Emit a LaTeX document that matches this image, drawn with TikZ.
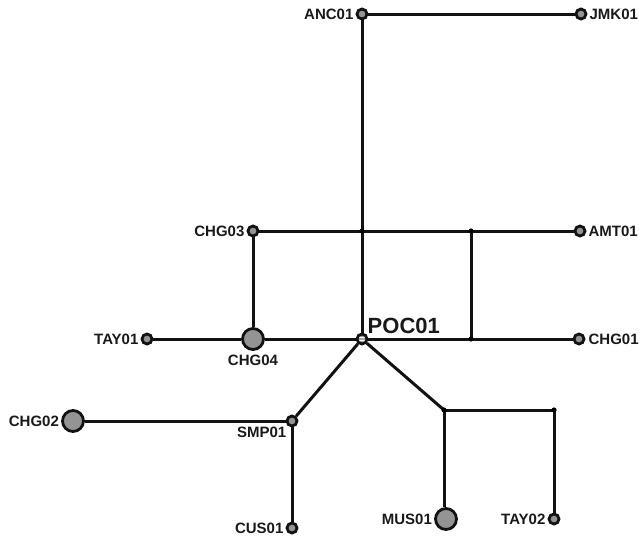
\documentclass[tikz,border=0pt]{standalone}
\usepackage{fontspec}
\setmainfont{Liberation Sans}
\begin{document}
\begin{tikzpicture}[x=1pt,y=-1pt,
  edge/.style={draw=black!93, line width=3pt},
  smallnode/.style={circle, draw=black!93, line width=2.8pt, fill=black!42, minimum size=10pt, inner sep=0pt},
  bignode/.style={circle, draw=black!93, line width=2.8pt, fill=black!42, minimum size=21pt, inner sep=0pt},
  lbl/.style={font=\fontsize{15}{17}\selectfont\bfseries, text=black!90, inner sep=1pt},
  poclbl/.style={font=\fontsize{22}{24}\selectfont\bfseries, text=black!90, inner sep=1pt},
  label distance=1pt]
\useasboundingbox (0,0) rectangle (639,538);
% nodes
\node[smallnode, label={[lbl]left:ANC01}] (ANC01) at (362,14) {};
\node[smallnode, label={[lbl]right:JMK01}] (JMK01) at (581,14) {};
\node[smallnode, label={[lbl]left:CHG03}] (CHG03) at (253,231) {};
\node[smallnode, label={[lbl]right:AMT01}] (AMT01) at (580,231) {};
\node[smallnode, label={[lbl]left:TAY01}] (TAY01) at (147,339) {};
\node[bignode, label={[lbl,label distance=3pt]below:CHG04}] (CHG04) at (253,339) {};
\node[smallnode, fill=black!35,
  path picture={\draw[white, line width=0.9pt]
     ([yshift=-1.3pt]path picture bounding box.west) -- ([yshift=-1.3pt]path picture bounding box.east)
     ([yshift=1.3pt]path picture bounding box.west) -- ([yshift=1.3pt]path picture bounding box.east);},
  label={[poclbl,label distance=0pt]above right:POC01}] (POC01) at (362,339) {};
\node[smallnode, label={[lbl,label distance=2pt]right:CHG01}] (CHG01) at (579,339) {};
\node[bignode, label={[lbl]left:CHG02}] (CHG02) at (73,421) {};
\node[smallnode, label={[lbl,label distance=0pt]below left:SMP01}] (SMP01) at (292,421) {};
\node[smallnode, label={[lbl]left:CUS01}] (CUS01) at (292,528) {};
\node[bignode, label={[lbl]left:MUS01}] (MUS01) at (446,519) {};
\node[smallnode, label={[lbl]left:TAY02}] (TAY02) at (554,519) {};
% junctions
\coordinate (J1) at (362,231);
\coordinate (J2) at (471,231);
\coordinate (J3) at (471,339);
\coordinate (J4) at (444,410);
\coordinate (J5) at (554,410);
% edges
\draw[edge] (ANC01) -- (JMK01);
\draw[edge] (ANC01) -- (J1) -- (POC01);
\draw[edge] (CHG03) -- (J1) -- (J2) -- (AMT01);
\draw[edge] (CHG03) -- (CHG04);
\draw[edge] (J2) -- (J3);
\draw[edge] (TAY01) -- (CHG04);
\draw[edge] (CHG04) -- (POC01);
\draw[edge] (POC01) -- (J3) -- (CHG01);
\draw[edge] (POC01) -- (SMP01);
\draw[edge] (CHG02) -- (SMP01);
\draw[edge] (SMP01) -- (CUS01);
\draw[edge] (POC01) -- (J4);
\draw[edge] (J4) -- (J5) -- (TAY02);
\draw[edge] (J4) -- (J4 |- MUS01.north);
% junction dots
\foreach \j in {J1,J2,J3,J4,J5} \fill[black] (\j) circle[radius=2.6pt];
\end{tikzpicture}
\end{document}
